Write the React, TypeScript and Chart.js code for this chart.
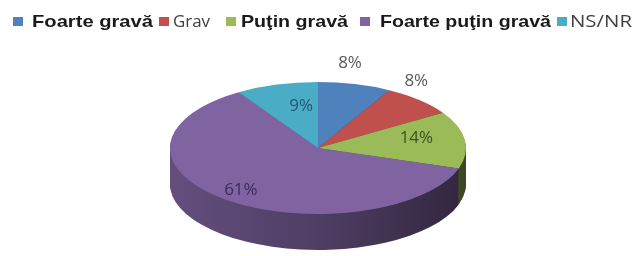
import React, { useEffect, useRef } from 'react';
import { Chart, registerables } from 'chart.js';

Chart.register(...registerables);

// ---- data ----
const categories = ['Foarte gravă', 'Grav', 'Puţin gravă', 'Foarte puţin gravă', 'NS/NR'];
const values = [8, 8, 14, 61, 9];
const valueLabels = ['8%', '8%', '14%', '61%', '9%'];

// ---- styles ----
const colors = ['#4F81BD', '#C0504D', '#9BBB59', '#8064A2', '#4BACC6'];
const labelColors = ['#595959', '#595959', '#3A5320', '#3B2A5E', '#1E5A70'];
const labelFx = [0.87, 0.97, 0.67, 0.85, 0.41];
const labelFy = [1.33, 1.39, 1.22, 0.81, 0.66];
const legendBoxX = [13, 159, 226, 360, 557];
const legendTextX = [32, 173, 241, 380, 570];
const legendTextW = [121, 37, 107, 171, 62];
const legendBold = [true, false, true, true, false];

const CX = 318;
const CY = 148;
const RX = 148;
const RY = 66;
const DEPTH = 36;

function shade(hex: string, f: number): string {
  const n = parseInt(hex.slice(1), 16);
  const r = Math.round(((n >> 16) & 255) * f);
  const g = Math.round(((n >> 8) & 255) * f);
  const b = Math.round((n & 255) * f);
  return `rgb(${r},${g},${b})`;
}

const pie3d = {
  id: 'pie3d',
  beforeDatasetsDraw(chart: any) {
    const ctx = chart.ctx as CanvasRenderingContext2D;
    const arcs = chart.getDatasetMeta(0).data;
    if (!arcs.length) return;
    const p0 = arcs[0].getProps(['x', 'y', 'outerRadius'], true);
    const sx = RX / p0.outerRadius;
    const sy = RY / p0.outerRadius;
    const props = arcs.map((a: any) => a.getProps(['x', 'y', 'startAngle', 'endAngle', 'outerRadius'], true));
    const grads = props.map((_: any, i: number) => {
      const g = ctx.createLinearGradient(CX - RX, 0, CX + RX, 0);
      g.addColorStop(0, shade(colors[i], 0.78));
      g.addColorStop(0.5, shade(colors[i], 0.62));
      g.addColorStop(1, shade(colors[i], 0.38));
      return g;
    });
    for (let d = DEPTH; d >= 1; d--) {
      for (let i = 0; i < props.length; i++) {
        const a = props[i];
        ctx.save();
        ctx.translate(CX, CY + d);
        ctx.scale(sx, sy);
        ctx.translate(-a.x, -a.y);
        ctx.beginPath();
        ctx.moveTo(a.x, a.y);
        ctx.arc(a.x, a.y, a.outerRadius, a.startAngle, a.endAngle);
        ctx.closePath();
        ctx.restore();
        ctx.fillStyle = grads[i];
        ctx.fill();
      }
    }
    ctx.save();
    ctx.translate(CX, CY);
    ctx.scale(sx, sy);
    ctx.translate(-p0.x, -p0.y);
  },
  afterDatasetsDraw(chart: any) {
    const ctx = chart.ctx as CanvasRenderingContext2D;
    const arcs = chart.getDatasetMeta(0).data;
    if (!arcs.length) return;
    ctx.restore();
    ctx.save();
    ctx.font = '17px "Open Sans"';
    ctx.textAlign = 'center';
    ctx.textBaseline = 'middle';
    arcs.forEach((el: any, i: number) => {
      const a = el.getProps(['startAngle', 'endAngle'], true);
      const mid = (a.startAngle + a.endAngle) / 2;
      const x = CX + labelFx[i] * RX * Math.cos(mid);
      const y = CY + labelFy[i] * RY * Math.sin(mid);
      ctx.fillStyle = labelColors[i];
      ctx.fillText(valueLabels[i], x, y);
    });
    ctx.restore();
  },
  afterDraw(chart: any) {
    const ctx = chart.ctx as CanvasRenderingContext2D;
    ctx.save();
    categories.forEach((name, i) => {
      ctx.fillStyle = colors[i];
      ctx.fillRect(legendBoxX[i], 17, 10, 9);
      ctx.font = legendBold[i] ? 'bold 17px "Liberation Sans"' : '16px "Open Sans"';
      ctx.fillStyle = legendBold[i] ? '#1A1A1A' : '#404040';
      ctx.textBaseline = 'alphabetic';
      ctx.textAlign = 'left';
      const m = ctx.measureText(name).width;
      ctx.save();
      ctx.translate(legendTextX[i], 27);
      ctx.scale(legendTextW[i] / m, 1);
      ctx.fillText(name, 0, 0);
      ctx.restore();
    });
    ctx.restore();
  },
};

export default function App() {
  const ref = useRef<HTMLCanvasElement | null>(null);
  useEffect(() => {
    document.body.style.margin = '0';
    document.body.style.background = '#ffffff';
    if (!ref.current) return;
    const chart = new Chart(ref.current, {
      type: 'pie',
      data: {
        labels: categories,
        datasets: [
          {
            data: values,
            backgroundColor: colors,
            borderWidth: 0,
          },
        ],
      },
      options: {
        responsive: false,
        animation: false,
        devicePixelRatio: 1,
        layout: { padding: 0 },
        plugins: {
          legend: { display: false },
          tooltip: { enabled: false },
        },
      },
      plugins: [pie3d],
    });
    return () => chart.destroy();
  }, []);
  return (
    <div style={{ width: 634, height: 256, position: 'relative', background: '#fff' }}>
      <canvas ref={ref} width={634} height={256} style={{ width: 634, height: 256 }} />
    </div>
  );
}
